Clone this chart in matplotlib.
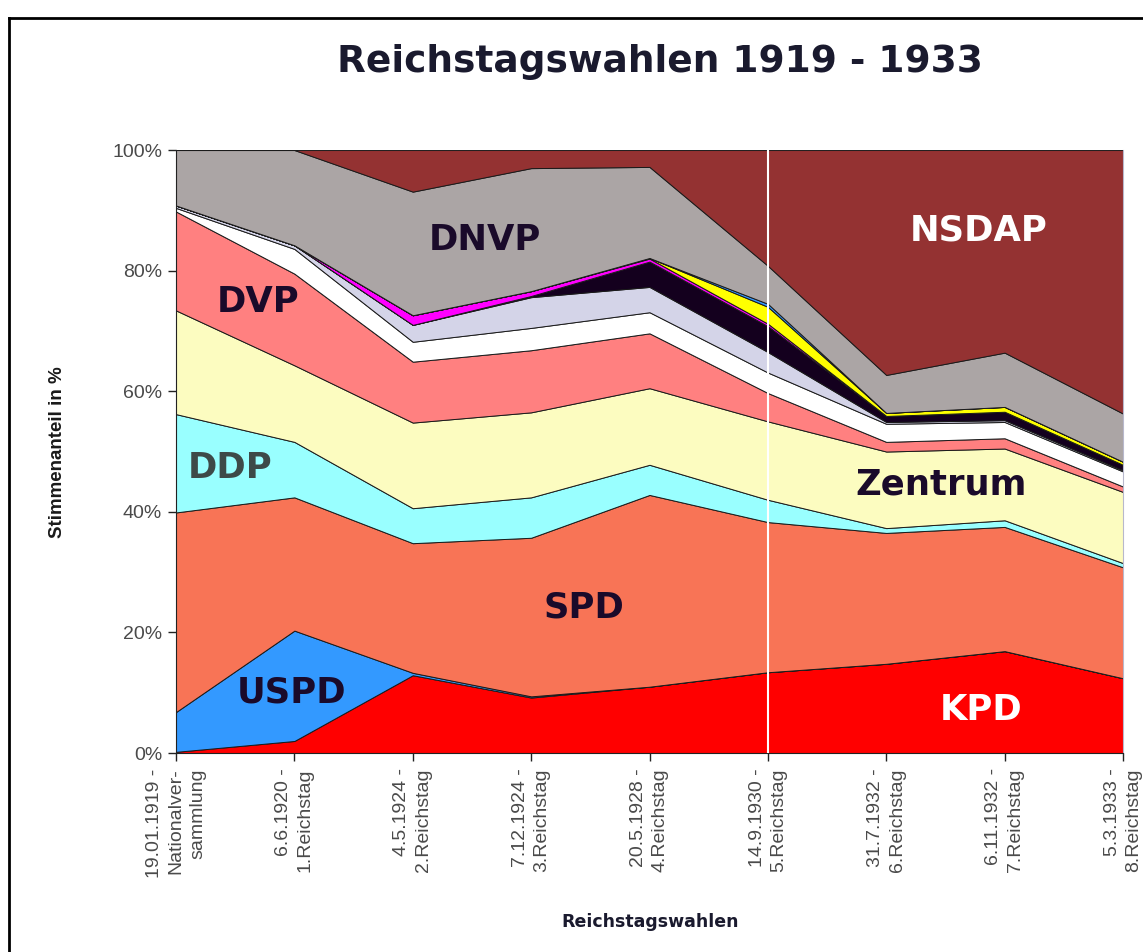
import numpy as np
import matplotlib.pyplot as plt
from matplotlib.lines import Line2D

# Wahltermine (x-Achse)
wahlen = ['19.01.1919 -\nNationalver-\nsammlung', '6.6.1920 -\n1.Reichstag',
          '4.5.1924 -\n2.Reichstag', '7.12.1924 -\n3.Reichstag',
          '20.5.1928 -\n4.Reichstag', '14.9.1930 -\n5.Reichstag',
          '31.7.1932 -\n6.Reichstag', '6.11.1932 -\n7.Reichstag',
          '5.3.1933 -\n8.Reichstag']

# Stimmenanteile in % (von unten nach oben gestapelt)
kpd      = [0.2, 2.0, 12.9, 9.2, 11.0, 13.4, 14.8, 16.9, 12.4]
uspd     = [6.6, 18.3, 0.4, 0.2, 0.0, 0.0, 0.0, 0.0, 0.0]
spd      = [33.1, 22.1, 21.5, 26.3, 31.8, 24.9, 21.7, 20.6, 18.4]
ddp      = [16.3, 9.2, 5.8, 6.7, 5.0, 3.7, 0.8, 1.1, 0.7]
zentrum  = [17.2, 12.7, 14.2, 14.1, 12.7, 13.0, 12.7, 11.9, 11.8]
dvp      = [16.4, 15.2, 10.1, 10.3, 9.1, 4.7, 1.6, 1.7, 0.9]
bvp      = [0.6, 4.1, 3.3, 3.7, 3.5, 3.4, 3.0, 2.7, 2.5]
wp       = [0.4, 0.6, 2.8, 5.1, 4.2, 3.4, 0.3, 0.3, 0.2]
sonstige = [0.0, 0.0, 0.0, 0.2, 4.2, 4.3, 1.0, 1.4, 0.9]
dvfp     = [0.0, 0.0, 1.6, 0.8, 0.5, 0.4, 0.0, 0.0, 0.0]
csvd     = [0.0, 0.0, 0.0, 0.0, 0.1, 2.8, 0.5, 0.8, 0.5]
landvolk = [0.0, 0.0, 0.0, 0.0, 0.0, 0.5, 0.0, 0.0, 0.0]
dnvp     = [9.2, 15.8, 20.5, 20.4, 15.1, 6.3, 6.3, 9.0, 8.0]
nsdap    = [0.0, 0.0, 6.9, 3.0, 2.8, 19.2, 37.3, 33.6, 43.7]

farben = ['#ff0000', '#3399ff', '#f87456', '#99ffff', '#fcfcc0', '#ff8080',
          '#ffffff', '#d4d4e8', '#14001e', '#ff00ff', '#ffff00', '#3399ff',
          '#aba5a5', '#943232']

y_ticks = [0, 20, 40, 60, 80, 100]
y_labels = ['0%', '20%', '40%', '60%', '80%', '100%']

fig = plt.figure(figsize=(11.43, 9.52), dpi=100)
ax = fig.add_axes([0.154, 0.209, 0.8285, 0.6334])

x = np.arange(len(wahlen))
ax.stackplot(x, kpd, uspd, spd, ddp, zentrum, dvp, bvp, wp, sonstige, dvfp,
             csvd, landvolk, dnvp, nsdap, colors=farben,
             edgecolor='#1a1a1a', linewidth=0.7)

# weisse Linie bei der Wahl 1930
ax.axvline(5, color='white', lw=1.5, zorder=3)

ax.set_xlim(0, 8)
ax.set_ylim(0, 100)
ax.set_yticks(y_ticks)
ax.set_yticklabels(y_labels, family='Liberation Sans')
ax.set_xticks(x)
ax.set_xticklabels(wahlen, rotation=90, ha='center', va='top',
                   multialignment='right', linespacing=1.35,
                   family='Liberation Sans')

ax.spines['top'].set_visible(False)
ax.spines['right'].set_color('#b8b8cc')
ax.spines['left'].set_color('#222222')
ax.spines['bottom'].set_color('#222222')
ax.tick_params(axis='both', direction='out', length=6, width=1,
               color='#222222', labelsize=14, labelcolor='#4a4a4a')
ax.tick_params(axis='y', pad=4)
ax.tick_params(axis='x', pad=5)

# Parteinamen im Diagramm
dunkel = '#1a0a2a'
lab = dict(ha='center', va='center', fontsize=25.5, fontweight='bold',
           family='DejaVu Sans', zorder=5)
ax.text(2.61, 85.1, 'DNVP', color=dunkel, **lab)
ax.text(6.78, 86.7, 'NSDAP', color='white', **lab)
ax.text(0.69, 74.8, 'DVP', color=dunkel, **lab)
ax.text(0.46, 47.3, 'DDP', color='#3d4a48', **lab)
ax.text(6.46, 44.6, 'Zentrum', color=dunkel, **lab)
ax.text(3.45, 24.2, 'SPD', color=dunkel, **lab)
ax.text(0.98, 10.0, 'USPD', color=dunkel, **lab)
ax.text(6.80, 7.1, 'KPD', color='white', **lab)

fig.text(660 / 1143, 1 - 62 / 952, 'Reichstagswahlen 1919 - 1933',
         ha='center', va='center', fontsize=27, fontweight='bold',
         family='DejaVu Sans', color='#1a1a2e')
fig.text(58 / 1143, 1 - 452 / 952, 'Stimmenanteil in %', rotation=90,
         ha='center', va='center', fontsize=13.5, fontweight='bold',
         family='Liberation Sans', color='#1a1a1a')
fig.text(650 / 1143, 1 - 922 / 952, 'Reichstagswahlen', ha='center',
         va='center', fontsize=12.5, fontweight='bold', family='DejaVu Sans',
         color='#1a1a2e')

# Rahmen
fig.add_artist(Line2D([0.008, 0.008], [0, 0.981], color='black', lw=2,
                      transform=fig.transFigure))
fig.add_artist(Line2D([0.008, 1], [0.981, 0.981], color='black', lw=2,
                      transform=fig.transFigure))

fig.savefig('out.png', dpi=100)
